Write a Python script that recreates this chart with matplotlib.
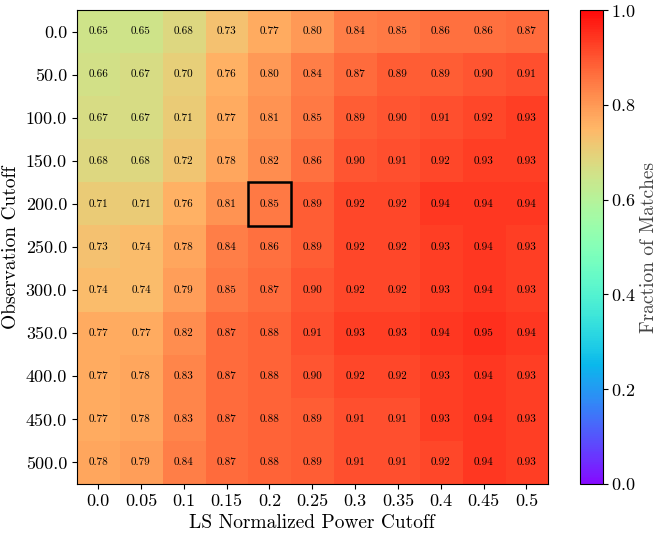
import numpy as np
import matplotlib
matplotlib.use("Agg")
import matplotlib.pyplot as plt
from matplotlib.patches import Rectangle

plt.rcParams["font.family"] = "serif"
plt.rcParams["font.serif"] = ["cmr10"]
plt.rcParams["mathtext.fontset"] = "cm"
plt.rcParams["axes.formatter.use_mathtext"] = True

power_cutoffs = ["0.0", "0.05", "0.1", "0.15", "0.2", "0.25", "0.3", "0.35", "0.4", "0.45", "0.5"]
obs_cutoffs = ["0.0", "50.0", "100.0", "150.0", "200.0", "250.0", "300.0", "350.0", "400.0", "450.0", "500.0"]

fraction_matches = np.array([
    [0.65, 0.65, 0.68, 0.73, 0.77, 0.80, 0.84, 0.85, 0.86, 0.86, 0.87],
    [0.66, 0.67, 0.70, 0.76, 0.80, 0.84, 0.87, 0.89, 0.89, 0.90, 0.91],
    [0.67, 0.67, 0.71, 0.77, 0.81, 0.85, 0.89, 0.90, 0.91, 0.92, 0.93],
    [0.68, 0.68, 0.72, 0.78, 0.82, 0.86, 0.90, 0.91, 0.92, 0.93, 0.93],
    [0.71, 0.71, 0.76, 0.81, 0.85, 0.89, 0.92, 0.92, 0.94, 0.94, 0.94],
    [0.73, 0.74, 0.78, 0.84, 0.86, 0.89, 0.92, 0.92, 0.93, 0.94, 0.93],
    [0.74, 0.74, 0.79, 0.85, 0.87, 0.90, 0.92, 0.92, 0.93, 0.94, 0.93],
    [0.77, 0.77, 0.82, 0.87, 0.88, 0.91, 0.93, 0.93, 0.94, 0.95, 0.94],
    [0.77, 0.78, 0.83, 0.87, 0.88, 0.90, 0.92, 0.92, 0.93, 0.94, 0.93],
    [0.77, 0.78, 0.83, 0.87, 0.88, 0.89, 0.91, 0.91, 0.93, 0.94, 0.93],
    [0.78, 0.79, 0.84, 0.87, 0.88, 0.89, 0.91, 0.91, 0.92, 0.94, 0.93],
])

best_row, best_col = 4, 4

fig = plt.figure(figsize=(6.56, 5.33), dpi=100)
ax = fig.add_axes([0.117, 0.092, 0.718, 0.889])
cax = fig.add_axes([0.884, 0.092, 0.035, 0.889])

im = ax.imshow(fraction_matches, cmap="rainbow", vmin=0, vmax=1, alpha=0.96,
               aspect="auto", interpolation="nearest")

for i in range(fraction_matches.shape[0]):
    for j in range(fraction_matches.shape[1]):
        ax.text(j, i, f"{fraction_matches[i, j]:.2f}", ha="center", va="center",
                fontsize=8, color="black")

ax.add_patch(Rectangle((best_col - 0.5, best_row - 0.5), 1, 1, fill=False,
                       edgecolor="black", linewidth=1.8))

ax.set_xticks(range(len(power_cutoffs)))
ax.set_xticklabels(power_cutoffs, fontsize=13)
ax.set_yticks(range(len(obs_cutoffs)))
ax.set_yticklabels(obs_cutoffs, fontsize=13)
ax.set_xlabel("LS Normalized Power Cutoff", fontsize=14)
ax.set_ylabel("Observation Cutoff", fontsize=14)

cb = fig.colorbar(im, cax=cax)
cb.set_ticks([0.0, 0.2, 0.4, 0.6, 0.8, 1.0])
cb.ax.tick_params(labelsize=13, pad=2)
cb.set_label("Fraction of Matches", fontsize=14, color="#444444")
cb.ax.yaxis.set_label_coords(2.6, 0.5)

fig.savefig("out.png", dpi=100)
